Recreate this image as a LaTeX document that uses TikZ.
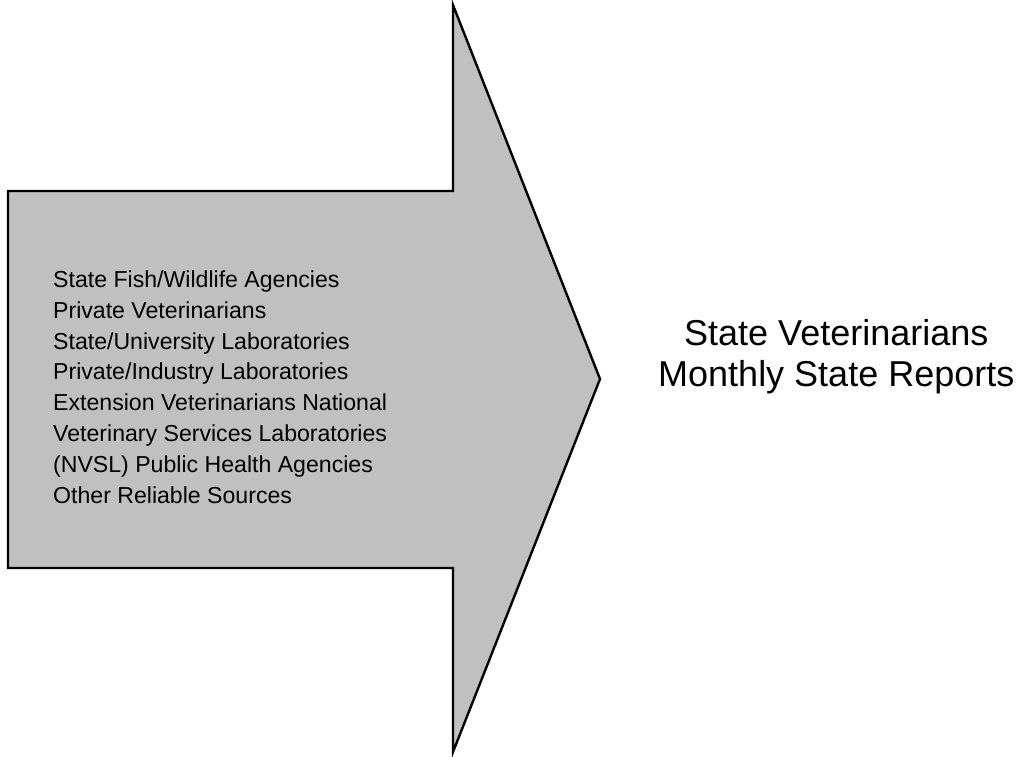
\documentclass[tikz,border=0pt]{standalone}
\usepackage{fontspec}
\setmainfont{Liberation Sans}
\usetikzlibrary{positioning}

\definecolor{arrowgray}{RGB}{192,192,192}

\begin{document}
\begin{tikzpicture}[x=1pt, y=-1pt]

	\useasboundingbox (0,0) rectangle (1023,757);

	% arrow corners
	\coordinate (bodytl) at (8,191);
	\coordinate (neckt) at (453,191);
	\coordinate (headt) at (453,5);
	\coordinate (tip) at (600,379);
	\coordinate (headb) at (453,752);
	\coordinate (neckb) at (453,568);
	\coordinate (bodybl) at (8,568);

	\draw[line width=2.4pt, line join=miter, fill=arrowgray] (bodytl) -- (neckt) -- (headt) -- (tip) -- (headb) -- (neckb) -- (bodybl) -- cycle;

	\node[anchor=west, inner sep=0pt, align=left, font=\fontsize{23.1}{30.8}\selectfont] (sources) at (53,387) {State Fish/Wildlife Agencies\\Private Veterinarians\\State/University Laboratories\\Private/Industry Laboratories\\Extension Veterinarians National\\Veterinary Services Laboratories\\(NVSL) Public Health Agencies\\Other Reliable Sources};

	\node[anchor=west, inner sep=0pt, align=center, font=\fontsize{36}{41}\selectfont, right=58pt of tip, yshift=22pt] (reports) {State Veterinarians\\Monthly State Reports};

\end{tikzpicture}
\end{document}
